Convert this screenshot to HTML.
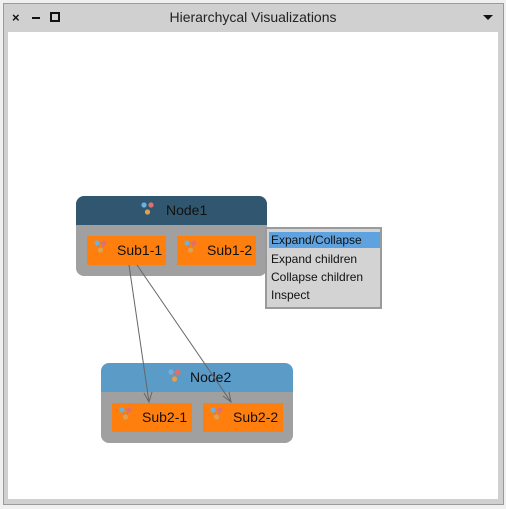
<!DOCTYPE html>
<html><head><meta charset="utf-8"><style>
body{margin:0;width:506px;height:509px;background:#f0f0f0;position:relative;overflow:hidden;font-family:"Liberation Sans","DejaVu Sans",sans-serif}
.abs{position:absolute;box-sizing:border-box}
.sub{position:absolute;background:#ff7f0e;color:#111;font-size:14px;line-height:29px;height:29px;width:79px}
.sub span{position:absolute;left:30px}
.ic{position:absolute;left:7px;top:4px}
</style></head><body>
<div class="abs" style="left:3px;top:3px;width:501px;height:502px;background:#d0d0d0;border:1px solid #9a9a9a"></div>
<div class="abs" style="left:12px;top:10px;font-size:13px;font-weight:bold;color:#111">×</div>
<div class="abs" style="left:32px;top:17px;width:8px;height:2px;background:#111"></div>
<div class="abs" style="left:50px;top:12px;width:10px;height:10px;border:2px solid #111"></div>
<div class="abs" style="left:0;width:506px;top:9px;text-align:center;font-size:14px;color:#222">Hierarchycal Visualizations</div>
<div class="abs" style="left:483px;top:15px;width:0;height:0;border-left:5px solid transparent;border-right:5px solid transparent;border-top:5px solid #111"></div>
<div class="abs" style="left:8px;top:32px;width:490px;height:467px;background:#fff"></div>

<svg class="abs" style="left:0;top:0" width="506" height="509">
<defs><g id="i"><circle cx="3" cy="3" r="2.6" fill="#6ab0e0"/><circle cx="10" cy="3" r="2.6" fill="#e07070"/><circle cx="6.5" cy="10" r="2.6" fill="#e0a050"/></g>
<g id="j"><path d="M3 3 L10 3 L6.5 10 Z" fill="none" stroke="#c08060" stroke-width="1.3"/><use href="#i"/></g></defs>
<path d="M76 204 a8 8 0 0 1 8 -8 h175 a8 8 0 0 1 8 8 v21 h-191z" fill="#31566f"/>
<path d="M76 225 h191 v43 a8 8 0 0 1 -8 8 h-175 a8 8 0 0 1 -8 -8z" fill="#a0a0a0"/>
<path d="M101 371 a8 8 0 0 1 8 -8 h176 a8 8 0 0 1 8 8 v21 h-192z" fill="#5b9bc8"/>
<path d="M101 392 h192 v43 a8 8 0 0 1 -8 8 h-176 a8 8 0 0 1 -8 -8z" fill="#a0a0a0"/>
<use href="#i" x="141" y="202"/>
<use href="#j" x="168" y="369"/>
</svg>
<div class="abs" style="left:166px;top:202px;font-size:14px;color:#111">Node1</div>
<div class="abs" style="left:190px;top:369px;font-size:14px;color:#111">Node2</div>
<div class="sub" style="left:87px;top:236px"><svg class="ic" width="14" height="14"><path d="M3 3 L10 3 L6.5 10 Z" fill="none" stroke="#c08060" stroke-width="1.3"/><circle cx="3" cy="3" r="2.6" fill="#6ab0e0"/><circle cx="10" cy="3" r="2.6" fill="#e07070"/><circle cx="6.5" cy="10" r="2.6" fill="#e0a050"/></svg><span>Sub1-1</span></div>
<div class="sub" style="left:177px;top:236px"><svg class="ic" width="14" height="14"><path d="M3 3 L10 3 L6.5 10 Z" fill="none" stroke="#c08060" stroke-width="1.3"/><circle cx="3" cy="3" r="2.6" fill="#6ab0e0"/><circle cx="10" cy="3" r="2.6" fill="#e07070"/><circle cx="6.5" cy="10" r="2.6" fill="#e0a050"/></svg><span>Sub1-2</span></div>
<div class="sub" style="left:112px;top:403px;width:80px"><svg class="ic" width="14" height="14"><path d="M3 3 L10 3 L6.5 10 Z" fill="none" stroke="#c08060" stroke-width="1.3"/><circle cx="3" cy="3" r="2.6" fill="#6ab0e0"/><circle cx="10" cy="3" r="2.6" fill="#e07070"/><circle cx="6.5" cy="10" r="2.6" fill="#e0a050"/></svg><span>Sub2-1</span></div>
<div class="sub" style="left:203px;top:403px;width:80px"><svg class="ic" width="14" height="14"><path d="M3 3 L10 3 L6.5 10 Z" fill="none" stroke="#c08060" stroke-width="1.3"/><circle cx="3" cy="3" r="2.6" fill="#6ab0e0"/><circle cx="10" cy="3" r="2.6" fill="#e07070"/><circle cx="6.5" cy="10" r="2.6" fill="#e0a050"/></svg><span>Sub2-2</span></div>
<svg class="abs" style="left:0;top:0" width="506" height="509">
<g stroke="#666" stroke-width="1" fill="none">
<line x1="129" y1="265" x2="149" y2="402"/>
<line x1="137" y1="265" x2="231" y2="402"/>
<path d="M144 393 L149 402 L152 392"/>
<path d="M223 396 L231 402 L229 392"/>
</g></svg>
<div class="abs" style="left:265px;top:227px;width:117px;height:82px;background:#d3d3d3;border:2px solid #9a9a9a;font-size:12px;color:#111;line-height:18px;padding:3px 0 0 2px">
<div style="background:#5fa2e0;width:109px;padding-left:2px;height:16px;line-height:16px;margin-bottom:2px">Expand/Collapse</div>
<div style="padding-left:2px">Expand children</div>
<div style="padding-left:2px">Collapse children</div>
<div style="padding-left:2px">Inspect</div>
</div>
</body></html>
